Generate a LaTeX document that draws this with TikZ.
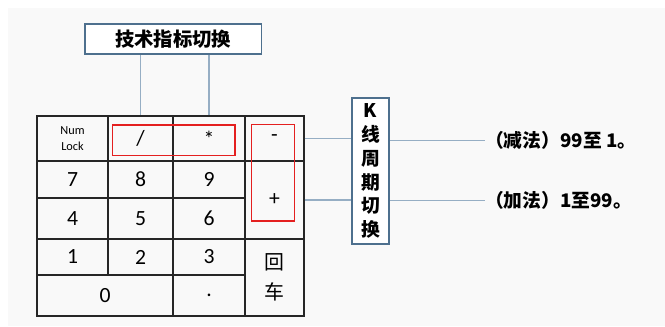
\documentclass[tikz,border=0pt]{standalone}
\usepackage{fontspec}
\setmainfont{Carlito}
\newfontfamily\cjk{Noto Sans CJK SC}
\definecolor{keyred}{RGB}{228,32,32}
\definecolor{boxblue}{RGB}{78,112,142}
\definecolor{linkblue}{RGB}{150,174,196}
\definecolor{paper}{RGB}{249,249,249}
\newcommand\pu{0.03cm}

\tikzset{
  key/.style 2 args={draw=black!85, line width=1.1pt, minimum width=#1*\pu, minimum height=#2*\pu, inner sep=0pt, font=\fontsize{18.5}{20}\selectfont},
  hint/.style={draw=boxblue, line width=1.4pt, fill=white, inner sep=0pt},
  link/.style={linkblue, line width=0.9pt},
  redbox/.style={keyred, line width=1.2pt},
  note/.style={anchor=west, inner sep=0pt, font=\cjk\bfseries\fontsize{16}{18}\selectfont}
}

\begin{document}
\begin{tikzpicture}[x=\pu, y=-\pu]
        \useasboundingbox (0,0) rectangle (665,326);
        \fill[paper] (8,8) rectangle (665,326);

        % keypad
        \node[key={71}{45}, font=\fontsize{10.5}{13}\selectfont, align=center] (numlock) at (72.5,138.5) {Num\\Lock};
        \node[key={65}{45}] (slash) at (140.5,138.5) {/};
        \node[key={72}{45}] (star) at (209,138.5) {*};
        \node[key={59}{45}] (minus) at (274.5,138.5) {-};
        \node[key={71}{37}] (k7) at (72.5,179.5) {7};
        \node[key={65}{37}] (k8) at (140.5,179.5) {8};
        \node[key={72}{37}] (k9) at (209,179.5) {9};
        \node[key={59}{78}] (plus) at (274.5,200) {+};
        \node[key={71}{41}] (k4) at (72.5,218.5) {4};
        \node[key={65}{41}] (k5) at (140.5,218.5) {5};
        \node[key={72}{41}] (k6) at (209,218.5) {6};
        \node[key={71}{36}] (k1) at (72.5,257) {1};
        \node[key={65}{36}] (k2) at (140.5,257) {2};
        \node[key={72}{36}] (k3) at (209,257) {3};
        \node[key={59}{77}, font=\cjk\fontsize{17}{25.5}\selectfont, align=center] (enter) at (274.5,277.5) {回\\车};
        \node[key={136}{41}] (k0) at (105,295.5) {0};
        \node[key={72}{41}] (dot) at (209,295.5) {.};

        % red frames
        \draw[redbox] (112.7,125) rectangle (235,155.7);
        \draw[redbox] (251.7,124.5) rectangle (294.5,221);

        % hint boxes
        \node[hint, minimum width=176.7*\pu, minimum height=30*\pu, font=\cjk\bfseries\fontsize{16.5}{18}\selectfont] (title) at (173.3,39.3) {技术指标切换};
        \node[hint, minimum width=37.6*\pu, minimum height=146*\pu, align=center, font=\cjk\bfseries\fontsize{16}{20.4}\selectfont] (kbox) at (370.5,171) {K\\线\\周\\期\\切\\换};

        \node[note] (sub) at (485,140.3) {（减法）99至 1。};
        \node[note] (add) at (485,200.7) {（加法）1至99。};

        % connectors
        \draw[link] (title.south -| slash) -- (slash.north);
        \draw[link] (title.south -| star) -- (star.north);
        \draw[link] (minus.east) -- (kbox.west |- minus.east);
        \draw[link] (plus.east) -- (kbox.west |- plus.east);
        \draw[link] (kbox.east |- sub.west) -- (sub.west);
        \draw[link] (kbox.east |- add.west) -- (add.west);
\end{tikzpicture}
\end{document}
